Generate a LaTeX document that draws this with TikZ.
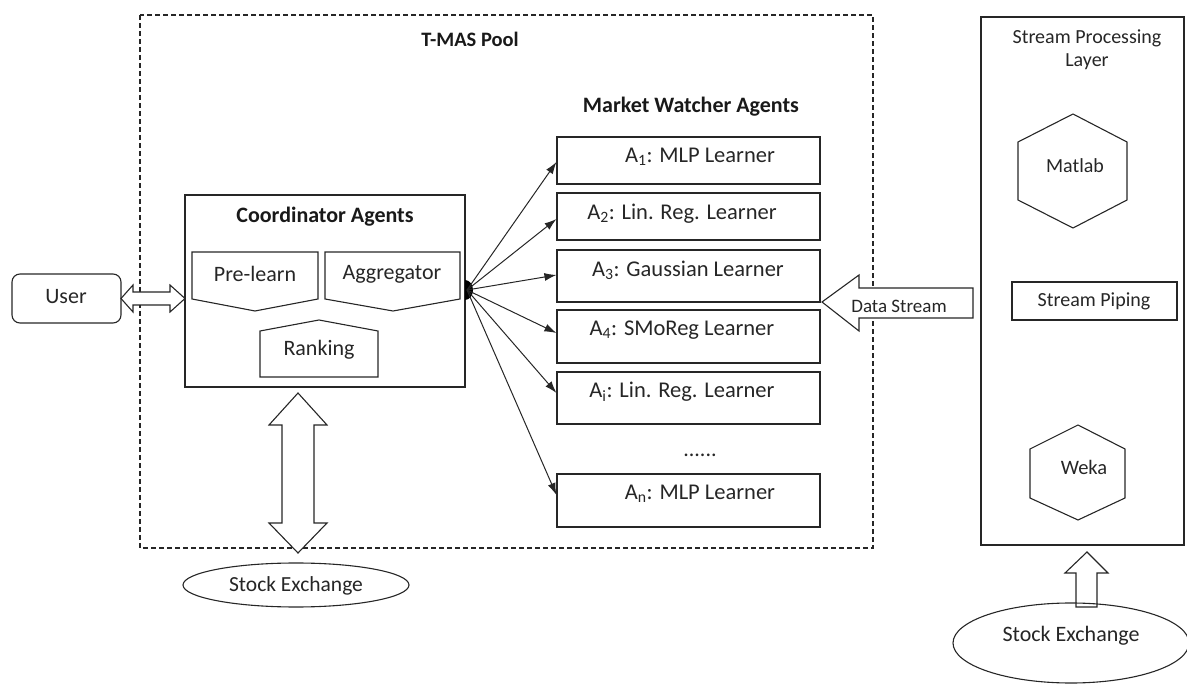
\documentclass[tikz,border=0pt]{standalone}
\usepackage{fontspec}
\setmainfont{Carlito}
\usetikzlibrary{arrows.meta,shapes.geometric}
\begin{document}
\begin{tikzpicture}[x=1pt,y=-1pt,
  line/.style={draw=black!85, line width=1.1pt},
  lbl/.style={font=\fontsize{22}{24}\selectfont, text=black!85, inner sep=0},
  sm/.style={font=\fontsize{20}{22}\selectfont},
  ttl/.style={font=\fontsize{22}{24}\selectfont\bfseries, text=black!90, inner sep=0},
  agent/.style={line, minimum width=263pt, inner sep=0},
  conn/.style={draw=black!85, line width=1pt, -{Latex[length=12pt,width=8pt]}}
]
\useasboundingbox (0,0) rectangle (1187,684);

% T-MAS pool
\draw[line, dash pattern=on 5pt off 3pt] (140,15) rectangle (873,548);
\node[ttl, font=\fontsize{20.5}{22}\selectfont\bfseries] (pooltitle) at (470,39) {T-MAS Pool};
\node[ttl] (mwtitle) at (691,107) {Market Watcher Agents};

% agents
\node[agent, minimum height=47pt] (a1) at (688.5,160.5) {};
\node[agent, minimum height=47pt] (a2) at (688.5,216.5) {};
\node[agent, minimum height=52pt] (a3) at (688.5,276) {};
\node[agent, minimum height=53pt] (a4) at (688.5,336.5) {};
\node[agent, minimum height=52pt] (ai) at (688.5,398) {};
\node[agent, minimum height=53pt] (an) at (688.5,500.5) {};
\node[lbl, font=\fontsize{22.5}{24}\selectfont] (t1) at (700,157) {A\textsubscript{1}: MLP Learner};
\node[lbl, font=\fontsize{22.5}{24}\selectfont] (t2) at (682,214) {A\textsubscript{2}: Lin. Reg. Learner};
\node[lbl, font=\fontsize{22.5}{24}\selectfont] (t3) at (688,270) {A\textsubscript{3}: Gaussian Learner};
\node[lbl, font=\fontsize{22.5}{24}\selectfont] (t4) at (682,330) {A\textsubscript{4}: SMoReg Learner};
\node[lbl, font=\fontsize{22.5}{24}\selectfont] (ti) at (682,392) {A\textsubscript{i}: Lin. Reg. Learner};
\node[lbl] (dots) at (700,455) {......};
\node[lbl, font=\fontsize{22.5}{24}\selectfont] (tn) at (700,494) {A\textsubscript{n}: MLP Learner};

% coordinator
\node[line, minimum width=280pt, minimum height=192pt, inner sep=0] (coord) at (325,291) {};
\node[ttl] (ctitle) at (325,217) {Coordinator Agents};
\draw[line] (192,252) -- (318,252) -- (318,299) -- (255,311) -- (192,299) -- cycle;
\node[lbl] (pre) at (255,274) {Pre-learn};
\draw[line] (325,252) -- (460,252) -- (460,299) -- (393,311) -- (325,299) -- cycle;
\node[lbl] (agg) at (392,274) {Aggregator};
\draw[line] (260,331) -- (319,320) -- (378,331) -- (378,377) -- (260,377) -- cycle;
\node[lbl] (rank) at (319,350) {Ranking};

% user
\node[line, rounded corners=8pt, minimum width=109pt, minimum height=49pt, inner sep=0] (user) at (66.5,298.5) {};
\node[lbl] (usert) at (66,297) {User};
\draw[line, fill=white] (121,298.5) -- (133,285) -- (133,292) -- (170,292) -- (170,285) -- (185,298.5)
  -- (170,312) -- (170,305) -- (133,305) -- (133,312) -- cycle;

% dot and connectors
\coordinate (dot) at (467,290);
\begin{scope}
  \clip (465,270) rectangle (490,310);
  \fill[black] (465,290) ellipse[x radius=8, y radius=10];
\end{scope}
\draw[conn] (dot) -- ([yshift=-1.5pt]a1.west);
\draw[conn] (dot) -- ([yshift=-2.5pt]a2.west);
\draw[conn] (dot) -- ([yshift=1pt]a3.west);
\draw[conn] (dot) -- ([yshift=3.5pt]a4.west);
\draw[conn] (dot) -- ([yshift=5pt]ai.west);
\draw[conn] (dot) -- ([yshift=5.5pt]an.west);

% vertical double arrow
\draw[line, fill=white] (298,393) -- (327,425) -- (314,425) -- (314,523) -- (327,523) -- (298,553)
  -- (269,523) -- (282,523) -- (282,425) -- (269,425) -- cycle;
\node[line, ellipse, minimum width=226pt, minimum height=44pt, inner sep=0] (se1) at (296,585) {};
\node[lbl, font=\fontsize{21.5}{23}\selectfont] (se1t) at (296,586) {Stock Exchange};

% data stream arrow
\draw[line, fill=white] (822,302) -- (859,275) -- (859,288) -- (973,288) -- (973,318) -- (859,318) -- (859,331) -- cycle;
\node[lbl, font=\fontsize{19}{21}\selectfont] (dst) at (899,306) {Data Stream};

% stream processing layer
\node[line, minimum width=203pt, minimum height=528pt, inner sep=0] (spl) at (1082.5,281) {};
\node[lbl, align=center, font=\fontsize{20}{23}\selectfont] (splt) at (1087,50) {Stream Processing\\Layer};
\draw[line] (1073,114) -- (1127,142) -- (1127,200) -- (1073,228) -- (1018,200) -- (1018,142) -- cycle;
\node[lbl, sm] (matlab) at (1075,166) {Matlab};
\node[line, minimum width=165pt, minimum height=38pt, inner sep=0] (pipe) at (1094.5,301) {};
\node[lbl, sm] (pipet) at (1094,301) {Stream Piping};
\draw[line] (1078,425) -- (1125,449) -- (1125,498) -- (1078,520) -- (1030,498) -- (1030,449) -- cycle;
\node[lbl, font=\fontsize{20.5}{22}\selectfont] (weka) at (1084,467) {Weka};

% up arrow
\draw[line, fill=white] (1087,552) -- (1108,573) -- (1097,573) -- (1097,607) -- (1076,607) -- (1076,573) -- (1065,573) -- cycle;
\draw[line] (1071,643) ellipse[x radius=118, y radius=40];
\node[lbl] (se2) at (1071,636) {Stock Exchange};
\end{tikzpicture}
\end{document}
